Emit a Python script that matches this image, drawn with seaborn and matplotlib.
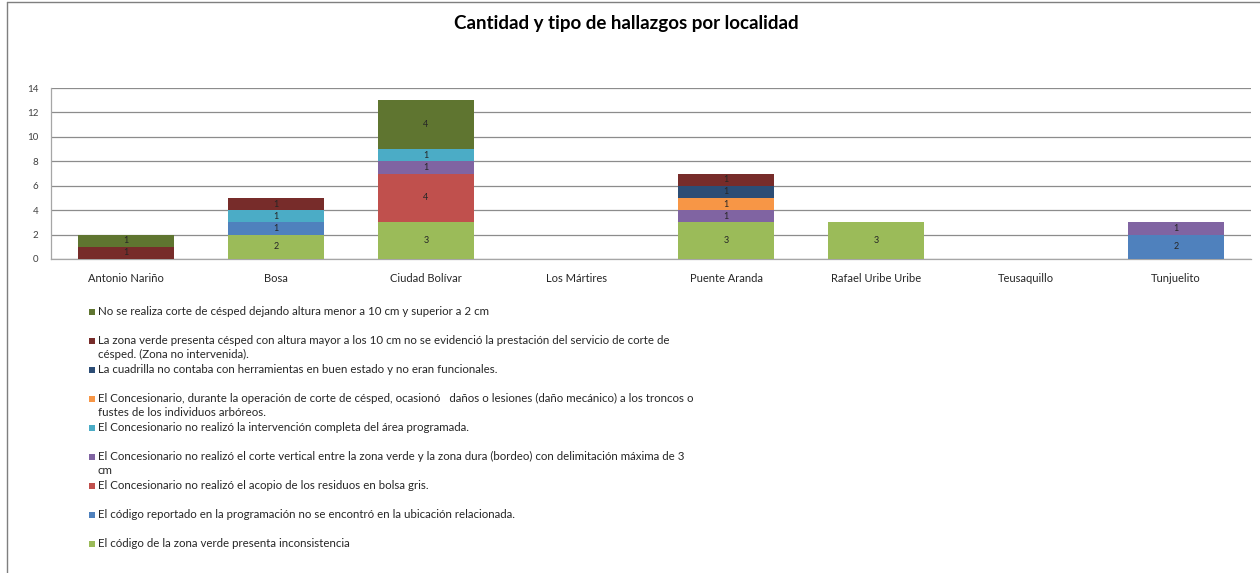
import pandas as pd
import matplotlib
matplotlib.use("Agg")
import matplotlib.pyplot as plt
from matplotlib.lines import Line2D
from matplotlib.patches import Rectangle
import seaborn as sns

localidades = ["Antonio Nariño", "Bosa", "Ciudad Bolívar", "Los Mártires",
               "Puente Aranda", "Rafael Uribe Uribe", "Teusaquillo", "Tunjuelito"]

# one list per type of finding, bottom of the stack first
codigo_inconsistente = [0, 2, 3, 0, 3, 3, 0, 0]
codigo_no_encontrado = [0, 1, 0, 0, 0, 0, 0, 2]
sin_acopio = [0, 0, 4, 0, 0, 0, 0, 0]
sin_bordeo = [0, 0, 1, 0, 1, 0, 0, 1]
intervencion_incompleta = [0, 1, 1, 0, 0, 0, 0, 0]
danos_arboles = [0, 0, 0, 0, 1, 0, 0, 0]
herramientas = [0, 0, 0, 0, 1, 0, 0, 0]
zona_no_intervenida = [1, 1, 0, 0, 1, 0, 0, 0]
altura_incorrecta = [1, 0, 4, 0, 0, 0, 0, 0]

series_labels = [
    "El código de la zona verde presenta inconsistencia",
    "El código reportado en la programación no se encontró en la ubicación relacionada.",
    "El Concesionario no realizó el acopio de los residuos en bolsa gris.",
    "El Concesionario no realizó el corte vertical entre la zona verde y la zona dura (bordeo) con delimitación máxima de 3\ncm",
    "El Concesionario no realizó la intervención completa del área programada.",
    "El Concesionario, durante la operación de corte de césped, ocasionó   daños o lesiones (daño mecánico) a los troncos o\nfustes de los individuos arbóreos.",
    "La cuadrilla no contaba con herramientas en buen estado y no eran funcionales.",
    "La zona verde presenta césped con altura mayor a los 10 cm no se evidenció la prestación del servicio de corte de\ncésped. (Zona no intervenida).",
    "No se realiza corte de césped dejando altura menor a 10 cm y superior a 2 cm",
]
series_colors = ["#9BBB59", "#4F81BD", "#C0504D", "#8064A2", "#4BACC6",
                 "#F79646", "#2C4D75", "#772C2A", "#5F7530"]

W, H = 1260, 573

sns.set_style("white")
plt.rcParams["font.family"] = ["Lato", "DejaVu Sans"]

df = pd.DataFrame(
    [codigo_inconsistente, codigo_no_encontrado, sin_acopio, sin_bordeo,
     intervencion_incompleta, danos_arboles, herramientas,
     zona_no_intervenida, altura_incorrecta],
    index=series_labels, columns=localidades).T
cum = df.cumsum(axis=1)

fig = plt.figure(figsize=(W / 100, H / 100), dpi=100)
ax = fig.add_axes([51 / W, 1 - 259 / H, 1200 / W, 171 / H])

# draw cumulative totals from the top of the stack down so each one covers the next
for label, color in reversed(list(zip(series_labels, series_colors))):
    sns.barplot(x=localidades, y=cum[label].values, color=color, saturation=1,
                width=0.645, edgecolor="none", ax=ax, zorder=3)

for label in series_labels:
    for i, loc in enumerate(localidades):
        v = df.loc[loc, label]
        if v > 0:
            ax.text(i, cum.loc[loc, label] - v / 2, str(v), ha="center", va="center",
                    fontsize=6.5, color="#262626", zorder=4)

ax.set_xlim(-0.5, len(localidades) - 0.5)
ax.set_ylim(0, 14)
ax.set_yticks(range(0, 15, 2))
ax.yaxis.grid(True, color="#8c8c8c", linewidth=0.9, zorder=0)
ax.set_axisbelow(True)
ax.set_xlabel("")
ax.set_ylabel("")
ax.tick_params(axis="y", length=0, pad=9, labelsize=7, labelcolor="#404040")
ax.tick_params(axis="x", length=0, pad=10, labelsize=8, labelcolor="#262626")
for side in ["top", "right"]:
    ax.spines[side].set_visible(False)
for side in ["left", "bottom"]:
    ax.spines[side].set_color("#a6a6a6")
    ax.spines[side].set_linewidth(0.9)

fig.text(626 / W, 1 - 23 / H, "Cantidad y tipo de hallazgos por localidad",
         ha="center", va="center", fontsize=13.5, fontweight="bold", color="#000000")

# legend, top entry first, one slot every 29 px
for k, (label, color) in enumerate(reversed(list(zip(series_labels, series_colors)))):
    yc = 312 + k * 29.0
    fig.patches.append(Rectangle((89 / W, 1 - (yc + 3) / H), 6 / W, 6 / H,
                                 transform=fig.transFigure, facecolor=color,
                                 edgecolor="none"))
    fig.text(98 / W, 1 - (yc - 6) / H, label, ha="left", va="top", fontsize=8.25,
             color="#262626", linespacing=1.3)

# frame of the original picture
fig.add_artist(Line2D([7 / W, 7 / W], [0, 1 - 2 / H], transform=fig.transFigure,
                      color="#7f7f7f", linewidth=1))
fig.add_artist(Line2D([7 / W, 1], [1 - 2 / H, 1 - 2 / H], transform=fig.transFigure,
                      color="#7f7f7f", linewidth=1))

fig.savefig("out.png", dpi=100)
